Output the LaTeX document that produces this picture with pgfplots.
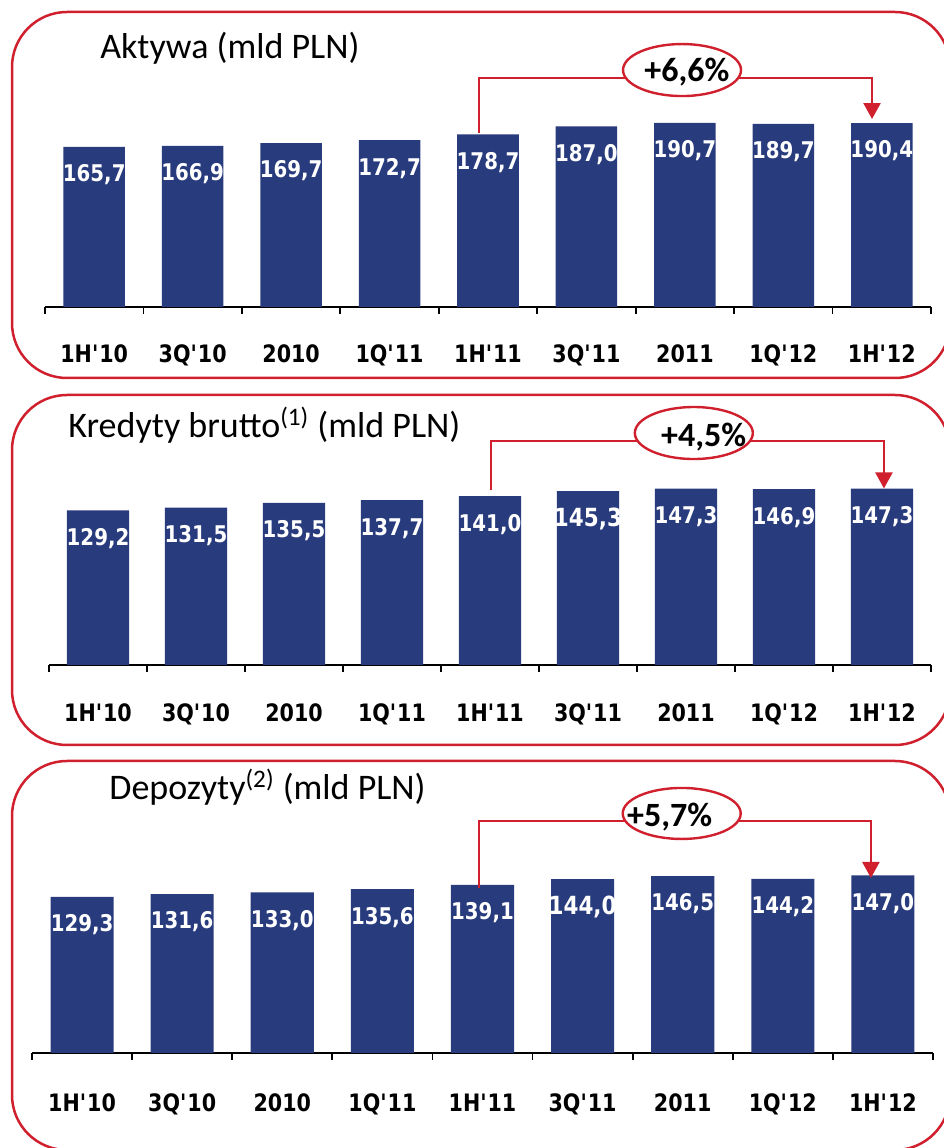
\documentclass[border=0pt]{standalone}
\usepackage{pgfplots}
\pgfplotsset{compat=1.18}
\usepackage{fontspec}
\usetikzlibrary{arrows.meta}
\setmainfont{Carlito}
\newfontfamily\lblfont[FakeStretch=0.86]{DejaVu Sans}
\newfontfamily\ttlfont{Carlito}
\definecolor{barblue}{RGB}{40,59,125}
\definecolor{ingred}{RGB}{208,32,46}
\protected\def\bg#1{{\fontsize{12.5}{14}\selectfont #1}}
\newcommand\q{\textquotesingle}

\pgfplotsset{panel/.style={
  scale only axis, clip=false,
  xmin=-0.5, xmax=8.5, ymin=0,
  hide y axis, axis x line*=bottom,
  x axis line style={line width=1.35pt},
  xtick={0,...,8},
  xticklabels={1H\q10,3Q\q10,2010,1Q\q11,1H\q11,3Q\q11,2011,1Q\q12,1H\q12},
  major tick length=0pt,
  extra x ticks={-0.5,0.5,...,8.5},
  extra x tick labels={},
  extra x tick style={major tick length=3.5pt, tick align=outside, tick style={line width=0.9pt, black}},
  xticklabel style={font=\lblfont\bfseries\fontsize{12}{14}\selectfont, anchor=base},
  ybar, bar shift=0pt,
  point meta=explicit symbolic,
  nodes near coords={\pgfplotspointmeta},
  every node near coord/.append style={font=\lblfont\bfseries\fontsize{11.5}{13}\selectfont, text=white, anchor=center, yshift=-14pt},
}}

\begin{document}
\begin{tikzpicture}
\path[use as bounding box] (0,0) rectangle (472pt,574pt);
\begin{scope}
\clip (0,0) rectangle (472pt,574pt);
\draw[ingred, line width=1.25pt, rounded corners=27.5pt] (6pt,385pt) rectangle (475pt,568pt);
\draw[ingred, line width=1.25pt, rounded corners=27.5pt] (6pt,201.5pt) rectangle (475pt,376.5pt);
\draw[ingred, line width=1.25pt, rounded corners=27.5pt] (6pt,-1pt) rectangle (475pt,193.5pt);
\end{scope}

\node[anchor=base west, inner sep=0pt, font=\ttlfont\fontsize{18}{20}\selectfont] at (50pt,544.5pt) {Aktywa (mld PLN)};
\node[anchor=base west, inner sep=0pt, font=\ttlfont\fontsize{18}{20}\selectfont] at (34pt,355pt) {Kredyty brutto\textsuperscript{(1)} (mld PLN)};
\node[anchor=base west, inner sep=0pt, font=\ttlfont\fontsize{18}{20}\selectfont] at (54.5pt,174pt) {Depozyty\textsuperscript{(2)} (mld PLN)};

% Panel 1
\begin{axis}[panel, at={(22.5pt,420.5pt)}, anchor=south west,
  width=443pt, height=140.07pt, ymax=290, bar width=0.625,
  xticklabel style={yshift=-28pt}]
\addplot[fill=barblue, draw=none] table[x=x, y=y, meta=lab] {
x y lab
0 165.7 165,7
1 166.9 166,9
2 169.7 169,7
3 172.7 172,7
4 178.7 178,7
5 187.0 187,0
6 190.7 190,7
7 189.7 189,7
8 190.4 190,4
};
\draw[ingred, line width=1.2pt, -{Triangle[length=8pt,width=8.5pt]}] (axis cs:3.909,180) |- (axis cs:7.901,237.1) -- (axis cs:7.901,194.6);
\draw[ingred, line width=1.2pt, fill=white] (axis cs:5.971,245.3) ellipse [x radius=29.5pt, y radius=13pt];
\node[font=\ttlfont\bfseries\fontsize{17}{20}\selectfont] at (axis cs:6.02,243.3) {+6,6\%};
\end{axis}

% Panel 2
\begin{axis}[panel, at={(24.5pt,241.5pt)}, anchor=south west,
  width=441pt, height=137.66pt, ymax=230, bar width=0.633,
  xticklabel style={yshift=-28.5pt}]
\addplot[fill=barblue, draw=none] table[x=x, y=y, meta=lab] {
x y lab
0 129.2 129,2
1 131.5 131,5
2 135.5 135,5
3 137.7 137,7
4 141.0 141,0
5 145.3 \bg{145,3}
6 147.3 147,3
7 146.9 146,9
8 147.3 147,3
};
\draw[ingred, line width=1.2pt, -{Triangle[length=8pt,width=8.5pt]}] (axis cs:4.01,146.2) |- (axis cs:8.02,187.1) -- (axis cs:8.02,147.5);
\draw[ingred, line width=1.2pt, fill=white] (axis cs:6.08,193.8) ellipse [x radius=29.5pt, y radius=13pt];
\node[font=\ttlfont\bfseries\fontsize{17}{20}\selectfont] at (axis cs:6.18,190.5) {+4,5\%};
\end{axis}

% Panel 3
\begin{axis}[panel, at={(16pt,47.5pt)}, anchor=south west,
  width=450.5pt, height=138.92pt, ymax=230, bar width=0.63,
  xticklabel style={yshift=-29pt}]
\addplot[fill=barblue, draw=none] table[x=x, y=y, meta=lab] {
x y lab
0 129.3 129,3
1 131.6 131,6
2 133.0 133,0
3 135.6 135,6
4 139.1 139,1
5 144.0 \bg{144,0}
6 146.5 146,5
7 144.2 144,2
8 147.0 147,0
};
\draw[ingred, line width=1.2pt, -{Triangle[length=8pt,width=8.5pt]}] (axis cs:3.966,137) |- (axis cs:7.88,192.1) -- (axis cs:7.88,144.9);
\draw[ingred, line width=1.2pt, fill=white] (axis cs:5.99,198.3) ellipse [x radius=29.5pt, y radius=12.75pt];
\node[font=\ttlfont\bfseries\fontsize{17}{20}\selectfont] at (axis cs:5.87,195.4) {+5,7\%};
\end{axis}
\end{tikzpicture}
\end{document}
